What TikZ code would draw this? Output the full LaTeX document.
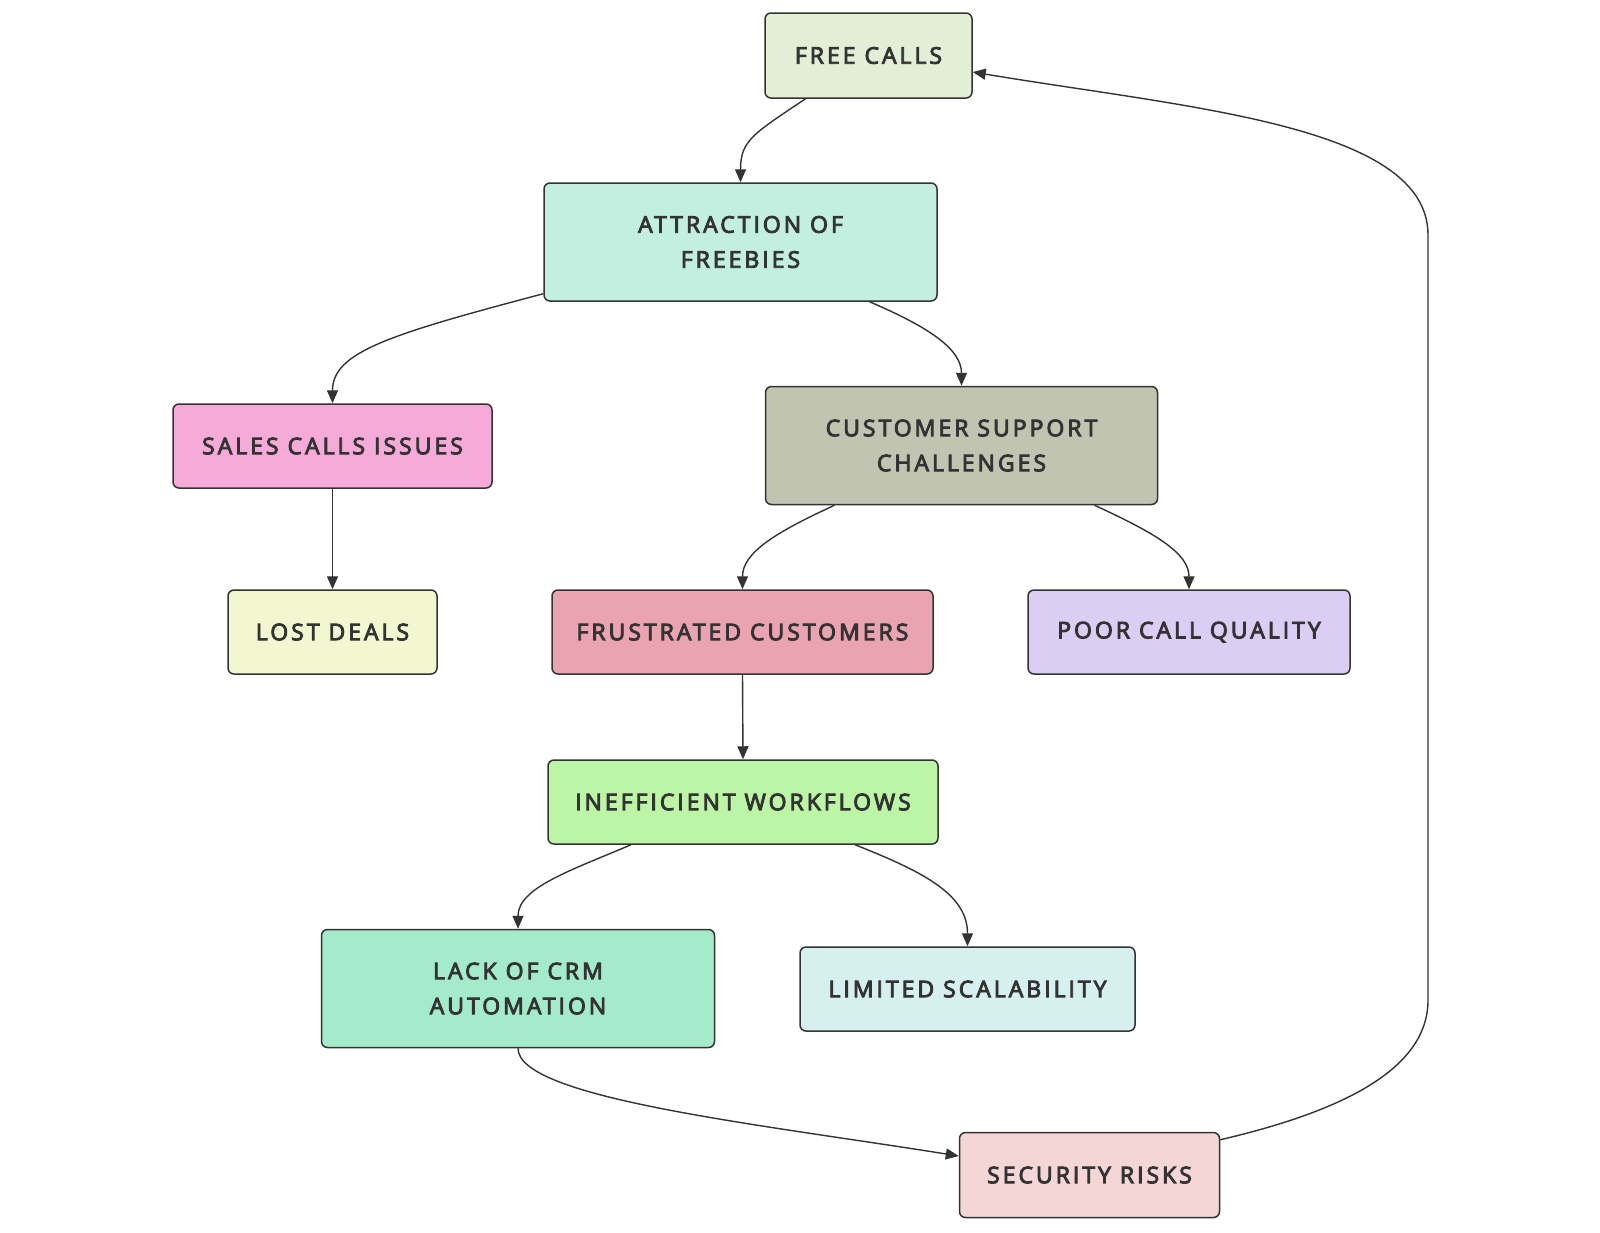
\documentclass[tikz,border=0pt]{standalone}
\usepackage{fontspec}
\setmainfont{Open Sans}[LetterSpace=13, FakeBold=4]
\usetikzlibrary{arrows.meta}
\definecolor{ink}{HTML}{333333}
\definecolor{cFree}{HTML}{E2EFD6}
\definecolor{cAttr}{HTML}{C2EFE0}
\definecolor{cSales}{HTML}{F5AAD8}
\definecolor{cCust}{HTML}{C2C4B2}
\definecolor{cLost}{HTML}{F2F7D0}
\definecolor{cFrus}{HTML}{EAA3B0}
\definecolor{cPoor}{HTML}{DCCDF5}
\definecolor{cIneff}{HTML}{BDF5A6}
\definecolor{cLack}{HTML}{A3EBCB}
\definecolor{cLim}{HTML}{D5F0EE}
\definecolor{cSec}{HTML}{F3D6D5}
\begin{document}
\begin{tikzpicture}[x=1pt,y=-1pt,
  box/.style={draw=ink, line width=1.5pt, rounded corners=6pt, align=center,
    text=ink, inner sep=0pt, font=\fontsize{23}{35}\selectfont},
  conn/.style={draw=ink, line width=1.4pt, -{Triangle[length=13pt,width=11pt]}}]
\useasboundingbox (0,0) rectangle (1600,1232);
\node[box, fill=cFree, minimum width=207pt, minimum height=85pt] (free) at (868.5,55.5) {FREE CALLS};
\node[box, fill=cAttr, minimum width=393pt, minimum height=118pt] (attr) at (740.5,242) {ATTRACTION OF\\FREEBIES};
\node[box, fill=cSales, minimum width=319pt, minimum height=84pt] (sales) at (332.5,446) {SALES CALLS ISSUES};
\node[box, fill=cCust, minimum width=392pt, minimum height=118pt] (cust) at (961.5,445.5) {CUSTOMER SUPPORT\\CHALLENGES};
\node[box, fill=cLost, minimum width=209pt, minimum height=84pt] (lost) at (332.5,632) {LOST DEALS};
\node[box, fill=cFrus, minimum width=381pt, minimum height=84pt] (frus) at (742.5,632) {FRUSTRATED CUSTOMERS};
\node[box, fill=cPoor, minimum width=322pt, minimum height=84pt] (poor) at (1189,632) {POOR CALL QUALITY};
\node[box, fill=cIneff, minimum width=390pt, minimum height=84pt] (ineff) at (743,802) {INEFFICIENT WORKFLOWS};
\node[box, fill=cLack, minimum width=393pt, minimum height=118pt] (lack) at (518,988.5) {LACK OF CRM\\AUTOMATION};
\node[box, fill=cLim, minimum width=335pt, minimum height=84pt] (lim) at (967.5,989) {LIMITED SCALABILITY};
\node[box, fill=cSec, minimum width=260pt, minimum height=85pt] (sec) at (1089.5,1175) {SECURITY RISKS};
\coordinate (bendlow) at (1428,1000);
\coordinate (bendhigh) at (1428,235);

\draw[conn] ([xshift=-63pt]free.south) .. controls +(-52,35) and +(0,-42) .. (attr.north);
\draw[conn] ([yshift=8pt]attr.south west) .. controls +(-155,41) and +(0,-51) .. (sales.north);
\draw[conn] ([xshift=129pt]attr.south) .. controls +(61,26) and +(0,-36) .. (cust.north);
\draw[conn] (sales.south) -- (lost.north);
\draw[conn] ([xshift=-127pt]cust.south) .. controls +(-61,28) and +(0,-36) .. (frus.north);
\draw[conn] ([xshift=133pt]cust.south) .. controls +(61,28) and +(0,-36) .. (poor.north);
\draw[conn] (frus.south) -- (ineff.north);
\draw[conn] ([xshift=-112pt]ineff.south) .. controls +(-61,26) and +(0,-41) .. (lack.north);
\draw[conn] ([xshift=112pt]ineff.south) .. controls +(71,28) and +(0,-51) .. (lim.north);
\draw[conn] (lack.south) .. controls +(0,50) and +(-200,-32) .. ([yshift=19pt]sec.west);
\draw[conn] ([yshift=-8pt]sec.north east) .. controls +(120,-28) and +(0,70) .. (bendlow) -- (bendhigh) .. controls +(0,-110) and +(215,36) .. ([yshift=-16.5pt]free.east);
\end{tikzpicture}
\end{document}
